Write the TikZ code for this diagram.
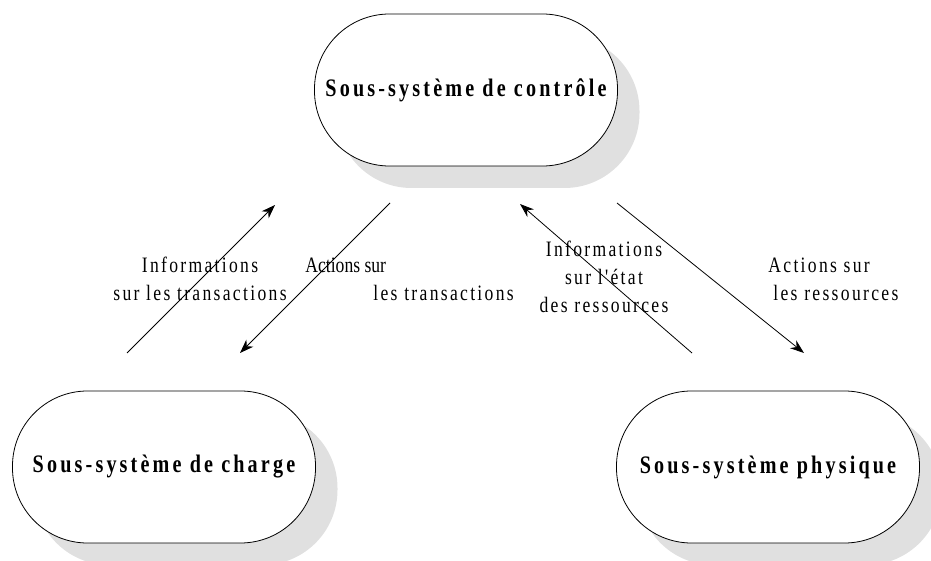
\documentclass[tikz,border=0pt]{standalone}
\usepackage{fontspec}
\setmainfont{Liberation Serif}
\newfontfamily\narrowfont[FakeStretch=0.8]{Liberation Serif}
\newfontfamily\spacedfont[FakeStretch=0.8,LetterSpace=10.5]{Liberation Serif}
\newfontfamily\boxfont[FakeStretch=0.8,LetterSpace=12.5]{Liberation Serif}
\usetikzlibrary{arrows.meta}
\usetikzlibrary{shadows}

\begin{document}
\begin{tikzpicture}[x=0.5pt,y=-0.5pt]
			\tikzset{subsys/.style = {draw,fill=white,rounded corners=37.5pt,minimum width=151.5pt,minimum height=76pt,
				drop shadow={shadow xshift=11pt,shadow yshift=-11pt,fill=black!12,opacity=1},
				font=\boxfont\bfseries\fontsize{12.6}{14}\selectfont}}
			\tikzset{flow/.style = {-{Stealth[length=7pt,width=5pt]}}}
			\tikzset{lbl/.style = {align=center,inner sep=0pt,font=\spacedfont\fontsize{11}{14}\selectfont}}
			\useasboundingbox (0,0) rectangle (931,561);
			% sub-systems
			\node[subsys] (ctrl) at (466,90) {Sous-système de contrôle};
			\node[subsys] (charge) at (164,467) {Sous-système de charge};
			\node[subsys] (phys) at (768,467) {Sous-système physique};
			% ends of the flows
			\coordinate (infotrA) at (127,353);
			\coordinate (infotrB) at (275,205);
			\coordinate (acttrA) at (390,203);
			\coordinate (acttrB) at (240,353);
			\coordinate (infoetA) at (692,353);
			\coordinate (infoetB) at (520,204);
			\coordinate (actresA) at (617,203);
			\coordinate (actresB) at (804,353);
			% flows
			\draw[flow] (infotrA) -- (infotrB);
			\draw[flow] (acttrA) -- (acttrB);
			\draw[flow] (infoetA) -- (infoetB);
			\draw[flow] (actresA) -- (actresB);
			% labels
			\node[lbl] (infotr) at (200,279) {Informations\\sur les transactions};
			\node[lbl,align=left,anchor=west] (acttr) at (305,279) {{\narrowfont Actions sur}\\\hspace*{34pt}les transactions};
			\node[lbl] (infoet) at (604,277) {Informations\\sur l'état\\des ressources};
			\node[lbl,align=left,anchor=west] (actres) at (768,279) {Actions sur\\\hspace*{2.5pt}les ressources};
		\end{tikzpicture}
\end{document}
